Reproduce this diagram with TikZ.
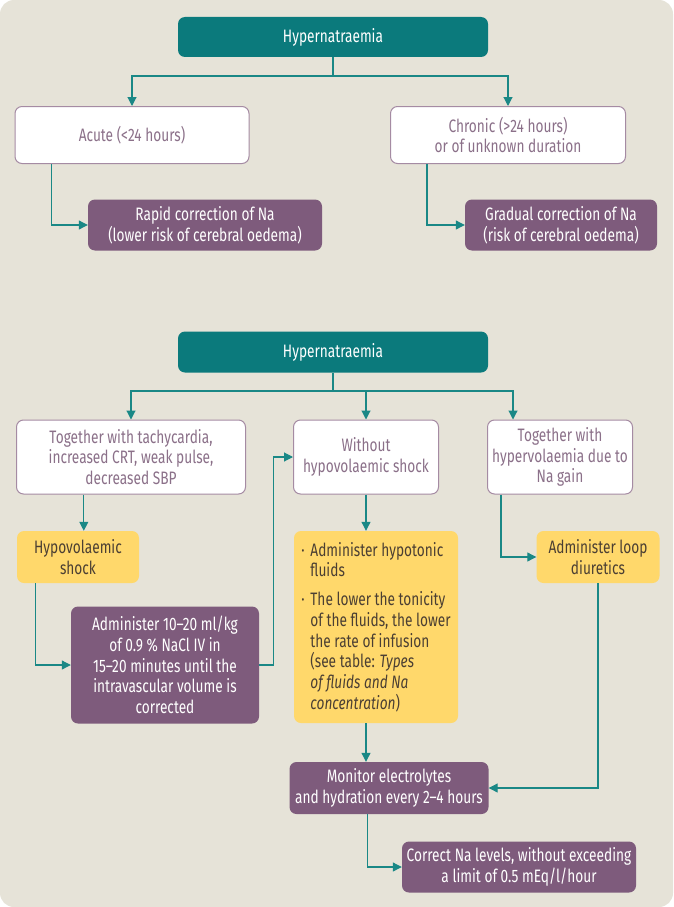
\documentclass[tikz,border=0pt]{standalone}
\usepackage{fontspec}
\setmainfont{Fira Sans}[FakeStretch=0.76]
\usetikzlibrary{arrows.meta,positioning}

\definecolor{hybg}{HTML}{E6E3D8}
\definecolor{hyteal}{HTML}{0B7A7C}
\definecolor{hypurple}{HTML}{7E5B7C}
\definecolor{hyyellow}{HTML}{FFD86B}
\definecolor{hyline}{HTML}{A58BA3}
\definecolor{hytext}{HTML}{8B7089}
\definecolor{hyarrow}{HTML}{1A8886}
\definecolor{hydark}{HTML}{4B3F33}

\tikzset{
  box/.style={rounded corners=7pt, inner sep=0pt, align=center,
    font=\fontsize{18}{20.7}\selectfont},
  wh/.style 2 args={minimum width=#1pt, minimum height=#2pt},
  head/.style={box, fill=hyteal, text=white},
  cond/.style={box, fill=white, draw=hyline, line width=1pt, text=hytext},
  act/.style={box, fill=hypurple, text=white},
  note/.style={box, fill=hyyellow, text=hydark},
  link/.style={draw=hyarrow, line width=1.1pt},
  flow/.style={link, -{Triangle[length=9pt,width=9pt]}},
}

\begin{document}
\begin{tikzpicture}[x=1pt,y=-1pt]
  \useasboundingbox (0,0) rectangle (673,907);
  \fill[hybg, rounded corners=14pt] (0,0) rectangle (673,907);

  % first chart
  \node[head, wh={310}{40}] (hypA) at (333,37) {Hypernatraemia};
  \node[cond, wh={234}{57}] (acute) at (132,135) {Acute (<24 hours)};
  \node[cond, wh={235}{57}] (chronic) at (508,135) {Chronic (>24 hours)\\or of unknown duration};
  \node[act, wh={234}{51}] (rapid) at (205,225) {Rapid correction of Na\\(lower risk of cerebral oedema)};
  \node[act, wh={192}{51}] (gradual) at (561,225) {Gradual correction of Na\\(risk of cerebral oedema)};

  \coordinate (splitA) at (333,76);
  \draw[link] (hypA) -- (splitA);
  \draw[flow] (splitA) -| (acute);
  \draw[flow] (splitA) -| (chronic);
  \draw[flow] ([xshift=37pt]acute.south west) |- (rapid.west);
  \draw[flow] ([xshift=37pt]chronic.south west) |- (gradual.west);

  % second chart
  \node[head, wh={310}{41}] (hypB) at (333,352) {Hypernatraemia};
  \node[cond, wh={229}{74}] (tachy) at (131,457) {Together with tachycardia,\\increased CRT, weak pulse,\\decreased SBP};
  \node[cond, wh={145}{74}] (without) at (366,457) {Without\\hypovolaemic shock};
  \node[cond, wh={145}{74}] (hyper) at (560,457) {Together with\\hypervolaemia due to\\Na gain};
  \node[note, wh={122}{52}] (shock) at (78,557) {Hypovolaemic\\shock};
  \node[note, wh={123}{52}] (loop) at (598,557) {Administer loop\\diuretics};
  \node[note, wh={164}{192}, align=left] (fluids) at (376,627)
    {\makebox[9pt][l]{·}Administer hypotonic\\
     \hspace*{9pt}fluids\\[8pt]
     \makebox[9pt][l]{·}The lower the tonicity\\
     \hspace*{9pt}of the fluids, the lower\\
     \hspace*{9pt}the rate of infusion\\
     \hspace*{9pt}(see table: \textit{Types}\\
     \hspace*{9pt}\textit{of fluids and Na}\\
     \hspace*{9pt}\textit{concentration})};
  \node[act, wh={188}{117}] (admin) at (165,665) {Administer 10–20 ml/kg\\of 0.9 \% NaCl IV in\\15–20 minutes until the\\intravascular volume is\\corrected};
  \node[act, wh={199}{52}] (monitor) at (389,788) {Monitor electrolytes\\and hydration every 2–4 hours};
  \node[act, wh={234}{51}] (correct) at (519,867) {Correct Na levels, without exceeding\\a limit of 0.5 mEq/l/hour};

  \coordinate (splitB) at (333,391);
  \coordinate (s1) at ([xshift=67pt]shock.north west);
  \draw[link] (hypB) -- (splitB);
  \draw[flow] (splitB) -| (tachy);
  \draw[flow] (splitB) -| (without);
  \draw[flow] (splitB) -| ([xshift=26pt]hyper.north west);
  \draw[flow] (s1 |- tachy.south) -- (s1);
  \draw[flow] ([xshift=19pt]shock.south west) |- (admin.west);
  \draw[flow] (admin.east) -- ++(14,0) |- (without.west);
  \draw[flow] (without) -- (without |- fluids.north);
  \draw[flow] ([xshift=14pt]hyper.south west) |- (loop.west);
  \draw[flow] (without |- fluids.south) -- (without |- monitor.north);
  \draw[flow] (loop) |- (monitor.east);
  \draw[flow] ([xshift=78pt]monitor.south west) |- (correct.west);
\end{tikzpicture}
\end{document}
